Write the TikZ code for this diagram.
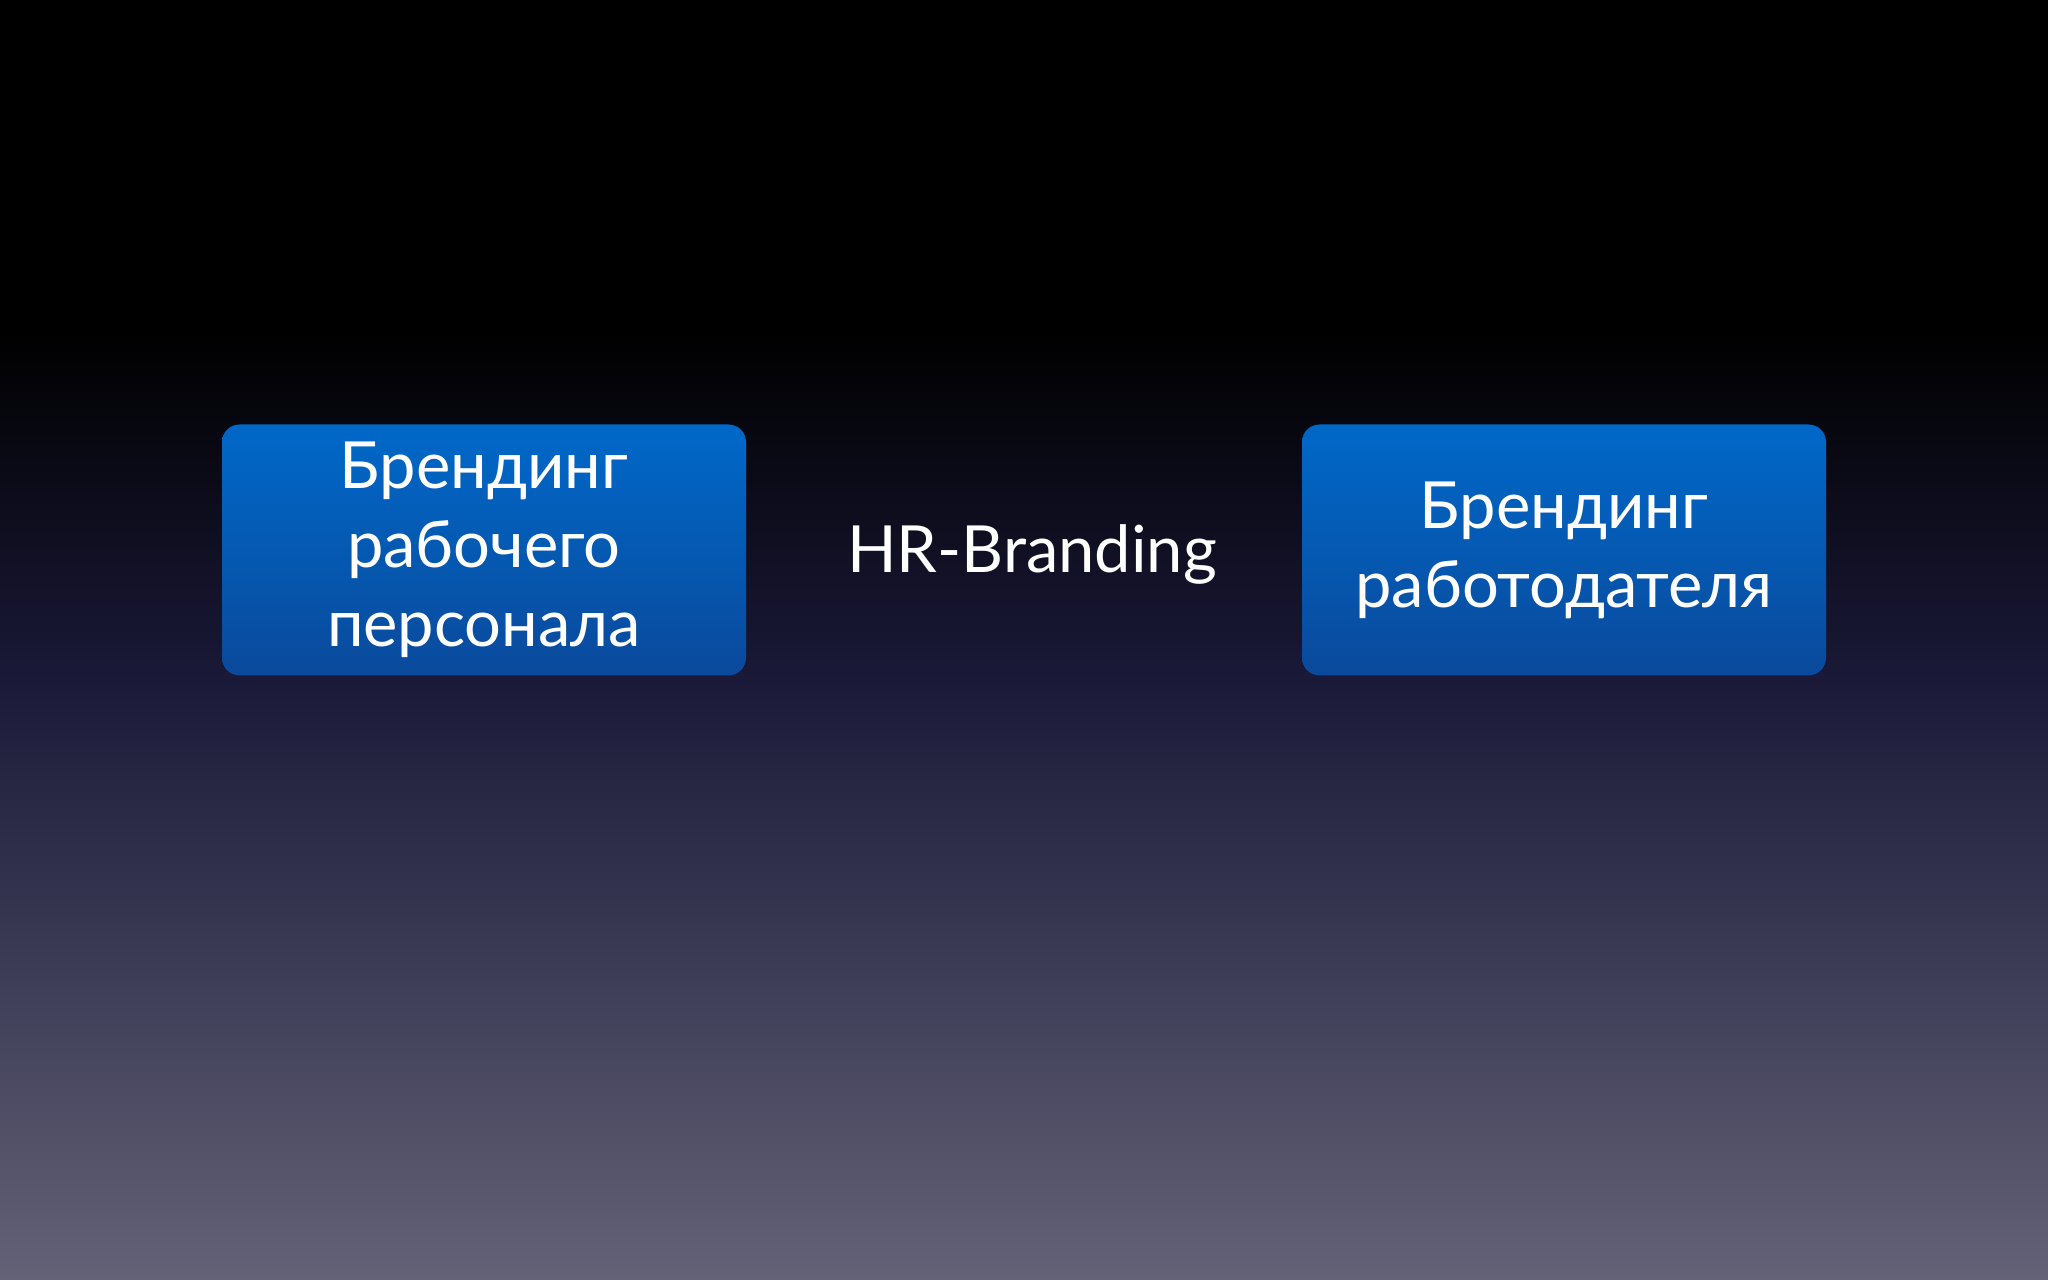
\documentclass[tikz,border=0pt]{standalone}
\usepackage{fontspec}
\setmainfont{Lato}
\definecolor{bgbottom}{HTML}{636277}
\definecolor{bgmid}{HTML}{1A1938}
\definecolor{boxtop}{HTML}{0068C8}
\definecolor{boxbottom}{HTML}{0A4A9C}
\tikzstyle{brandbox}=[rectangle, rounded corners=5pt, top color=boxtop, bottom color=boxbottom, minimum width=5.24cm, minimum height=2.51cm, inner sep=0pt, text=white, align=center, font=\fontsize{18.5}{22.5}\selectfont]
\tikzstyle{midtext}=[text=white, font=\fontsize{18.5}{22.5}\selectfont]

\begin{document}
\begin{tikzpicture}

    % background
    \fill[black] (0,0) rectangle (20.48,12.8);
    \shade[top color=black, bottom color=bgmid] (0,6) rectangle (20.48,9.5);
    \shade[top color=bgmid, bottom color=bgbottom] (0,0) rectangle (20.48,6.01);
    \useasboundingbox (0,0) rectangle (20.48,12.8);

    \node[brandbox] (worker) at (4.84,7.3) {Брендинг\\рабочего\\персонала};
    \node[brandbox] (employer) at (15.64,7.3) {Брендинг\\работодателя};

    \node[midtext, anchor=base] (hr) at (10.32,7.07) {HR-Branding};

\end{tikzpicture}
\end{document}
